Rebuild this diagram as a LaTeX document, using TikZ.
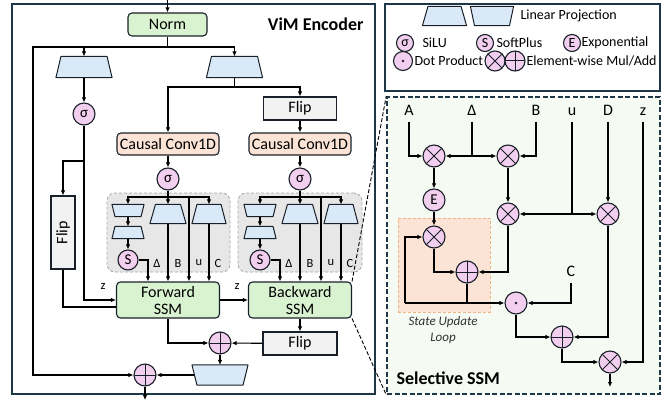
\documentclass[tikz,border=0pt]{standalone}
\usepackage{fontspec}
\setmainfont{Carlito}
\usepackage{tikz}
\usetikzlibrary{arrows.meta,positioning,calc}

\definecolor{panelc}{RGB}{31,56,72}
\definecolor{linec}{RGB}{25,32,40}
\definecolor{ssmgreen}{RGB}{217,242,208}
\definecolor{convorange}{RGB}{251,227,214}
\definecolor{flipgray}{RGB}{242,242,242}
\definecolor{projblue}{RGB}{218,233,247}
\definecolor{oppink}{RGB}{242,206,239}
\definecolor{grpgray}{RGB}{231,231,231}
\definecolor{grpline}{RGB}{166,166,166}
\definecolor{selgreen}{RGB}{245,250,243}
\definecolor{loopfill}{RGB}{251,228,213}
\definecolor{loopline}{RGB}{244,177,131}
\definecolor{looptext}{RGB}{50,50,50}

\begin{document}
\begin{tikzpicture}[
    x=1pt, y=-1pt, line width=1.1pt,
    >={Latex[length=5pt,width=4.5pt]},
    panel/.style={draw=panelc, line width=1.6pt},
    blk/.style={rectangle, draw=linec, rounded corners=4pt, align=center,
                font=\fontsize{16}{17}\selectfont, inner sep=1pt},
    ssm/.style={blk, fill=ssmgreen, minimum width=103pt, minimum height=36pt},
    conv/.style={blk, fill=convorange, minimum width=102pt, minimum height=22pt},
    flipbox/.style={blk, fill=flipgray, rounded corners=0pt,
                    minimum width=74pt, minimum height=23pt},
    projnode/.style={rectangle, inner sep=0pt, minimum width=55pt, minimum height=20pt},
    trapline/.style={draw=linec, fill=projblue, line width=1pt, line join=round},
    opc/.style={circle, draw=linec, fill=oppink, minimum size=22pt,
                inner sep=0pt, font=\fontsize{15}{15}\selectfont},
    legop/.style={opc, minimum size=17pt, font=\fontsize{14}{14}\selectfont},
    mulop/.style={path picture={\draw[linec, line width=1pt]
        (path picture bounding box.north west) -- (path picture bounding box.south east)
        (path picture bounding box.north east) -- (path picture bounding box.south west);}},
    addop/.style={path picture={\draw[linec, line width=1pt]
        (path picture bounding box.north) -- (path picture bounding box.south)
        (path picture bounding box.east) -- (path picture bounding box.west);}},
    dotop/.style={path picture={\fill[linec]
        (path picture bounding box.center) circle (1.4pt);}},
    lbl/.style={font=\fontsize{16}{16}\selectfont, inner sep=4pt,
                text height=10pt, text depth=2pt},
    smalllbl/.style={font=\fontsize{12.5}{12.5}\selectfont, inner sep=1pt},
    legtext/.style={font=\fontsize{14}{14}\selectfont, anchor=west, inner sep=0pt},
    titletext/.style={font=\fontsize{18}{18}\selectfont\bfseries, inner sep=0pt},
    grpbox/.style={draw=grpline, dash pattern=on 3pt off 2pt, fill=grpgray,
                   rounded corners=8pt, line width=0.8pt},
    zoomline/.style={dash pattern=on 4pt off 2pt, line width=0.9pt},
]
    \useasboundingbox (0,0) rectangle (668,401);

    % Panels
    \node[panel, minimum width=363pt, minimum height=390pt] (enc) at (193.5,199) {};
    \node[panel, minimum width=275pt, minimum height=87pt] (leg) at (522.5,47.5) {};
    \node[panel, dash pattern=on 5pt off 2.5pt, fill=selgreen, minimum width=273pt,
          minimum height=297pt] (sel) at (523.5,245.5) {};
    \node[titletext, anchor=east] (vimtitle) at (364,24) {ViM Encoder};
    \node[titletext, anchor=west] (seltitle) at (396,378) {Selective SSM};

    % Legend
    \node[projnode, minimum width=43pt, minimum height=18pt] (lgA) at (444.5,16) {};
    \node[projnode, minimum width=42pt, minimum height=18pt] (lgB) at (492,16) {};
    \node[legtext] (lgAtxt) at (520,16) {Linear Projection};
    \node[legop] (lgS) at (405,43) {σ};
    \node[legtext] (lgStxt) at (422,43) {SiLU};
    \node[legop] (lgP) at (485,43) {S};
    \node[legtext] (lgPtxt) at (496,43) {SoftPlus};
    \node[legop] (lgE) at (572,43) {E};
    \node[legtext] (lgEtxt) at (581,43) {Exponential};
    \node[legop, dotop, minimum size=19pt] (lgD) at (403,61) {};
    \node[legtext] (lgDtxt) at (414,61) {Dot Product};
    \node[legop, mulop, minimum size=20pt] (lgM) at (495,61) {};
    \node[legop, addop, minimum size=20pt] (lgAd) at (515,61) {};
    \node[legtext] (lgMtxt) at (526,61) {Element-wise Mul/Add};

    % Groups
    \node[grpbox, minimum width=123pt, minimum height=79pt] (grpL) at (168.5,232.5) {};
    \node[grpbox, minimum width=124pt, minimum height=79pt] (grpR) at (300,232.5) {};

    % Encoder blocks
    \coordinate (in) at (167.5,0);
    \node[blk, fill=ssmgreen, minimum width=79pt, minimum height=23pt] (norm) at (167.5,24.5) {Norm};
    \coordinate (split) at (167.5,47);
    \node[projnode] (projL) at (84,67) {};
    \node[projnode] (projR) at (234.5,67) {};
    \node[opc] (silu1) at (84,114) {σ};
    \node[flipbox, minimum width=24pt, minimum height=73pt] (flipz) at (63,232.5) {\rotatebox{90}{Flip}};
    \node[flipbox, minimum width=73pt] (flipR) at (300,108.5) {Flip};
    \node[conv] (convL) at (168,144) {Causal Conv1D};
    \node[conv] (convR) at (300,144) {Causal Conv1D};
    \node[opc] (siluL) at (168,179) {σ};
    \node[opc] (siluR) at (300,179) {σ};

    % Forward parameters
    \node[projnode, minimum width=31pt, minimum height=11pt] (dtL1) at (128,210.5) {};
    \node[projnode, minimum width=31pt, minimum height=11pt] (dtL2) at (128,232.5) {};
    \node[opc, minimum size=20pt] (softL) at (128,260) {S};
    \node[projnode, minimum width=35pt, minimum height=18pt] (bL) at (168,214) {};
    \node[projnode, minimum width=33pt, minimum height=18pt] (cL) at (209,214) {};
    \node[smalllbl] (lblDL) at (157,263) {Δ};
    \node[smalllbl] (lblBL) at (178,263) {B};
    \node[smalllbl] (lblUL) at (199,263) {u};
    \node[smalllbl] (lblCL) at (218,263) {C};

    % Backward parameters
    \node[projnode, minimum width=31pt, minimum height=11pt] (dtR1) at (260,210.5) {};
    \node[projnode, minimum width=31pt, minimum height=11pt] (dtR2) at (260,232.5) {};
    \node[opc, minimum size=20pt] (softR) at (260,260) {S};
    \node[projnode, minimum width=35pt, minimum height=18pt] (bR) at (300,214) {};
    \node[projnode, minimum width=33pt, minimum height=18pt] (cR) at (341,214) {};
    \node[smalllbl] (lblDR) at (289,263) {Δ};
    \node[smalllbl] (lblBR) at (310,263) {B};
    \node[smalllbl] (lblUR) at (331,263) {u};
    \node[smalllbl] (lblCR) at (350,263) {C};

    % SSMs and merge
    \node[ssm] (fwd) at (168,300) {Forward\\SSM};
    \node[ssm] (bwd) at (300,300) {Backward\\SSM};
    \node[smalllbl] (lblzF) at (103,287) {z};
    \node[smalllbl] (lblzB) at (237,287) {z};
    \node[flipbox] (flipB) at (300,343.5) {Flip};
    \node[opc, addop] (addM) at (220,343) {};
    \node[projnode, minimum height=19pt] (outproj) at (220,375) {};
    \node[opc, addop] (addO) at (145,375) {};
    \coordinate (resid) at (33,375);
    \coordinate (out) at (145,400);

    % Linear projections (narrow top / narrow bottom)
    \foreach \n/\c in {lgA/5.5, projL/5, projR/5, dtL2/3, dtR2/3, bL/5.5, bR/5.5, cL/5, cR/5}
        \draw[trapline] ([xshift=\c pt]\n.north west) -- ([xshift=-\c pt]\n.north east)
            -- (\n.south east) -- (\n.south west) -- cycle;
    \foreach \n/\c in {lgB/4, dtL1/3, dtR1/3, outproj/5}
        \draw[trapline] (\n.north west) -- (\n.north east)
            -- ([xshift=-\c pt]\n.south east) -- ([xshift=\c pt]\n.south west) -- cycle;

    % Encoder arrows
    \draw[->] (in) -- (norm);
    \draw (norm) -- (split);
    \draw[->] (split) -| (projL.north);
    \draw[->] (split) -| (projR.north);
    \draw[->] (split) -| (resid) -- (addO.west);
    \draw[->] (projL) -- (silu1);
    \coordinate (zsplit) at (84,161);
    \draw (silu1) -- (zsplit);
    \draw[->] (zsplit) -| (flipz.north);
    \draw[->] (zsplit) |- (fwd.west);
    \draw (flipz.south) |- ([yshift=-7pt]fwd.west);
    \coordinate (rsplit) at (234.5,87);
    \draw (projR) -- (rsplit);
    \draw[->] (rsplit) -| (convL.north);
    \draw[->] (rsplit) -| (flipR.north);
    \draw[->] (flipR) -- (convR);
    \draw[->] (convL) -- (siluL);
    \draw[->] (convR) -- (siluR);

    % Forward group arrows
    \coordinate (gL) at (168,197);
    \coordinate (uL) at (189,197);
    \draw (siluL) -- (gL);
    \draw[->] (gL) -| (dtL1.north);
    \draw[->] (gL) -- (bL.north);
    \draw[->] (gL) -| (cL.north);
    \draw[->] (dtL1) -- (dtL2);
    \draw[->] (dtL2) -- (softL);
    \draw[->] (softL.east) -| ([xshift=-20pt]fwd.north);
    \draw[->] (bL.south) -- (fwd.north);
    \draw[->] (uL) -- (uL |- fwd.north);
    \draw[->] (cL.south) -- (cL.south |- fwd.north);

    % Backward group arrows
    \coordinate (gR) at (300,197);
    \coordinate (uR) at (321,197);
    \draw (siluR) -- (gR);
    \draw[->] (gR) -| (dtR1.north);
    \draw[->] (gR) -- (bR.north);
    \draw[->] (gR) -| (cR.north);
    \draw[->] (dtR1) -- (dtR2);
    \draw[->] (dtR2) -- (softR);
    \draw[->] (softR.east) -| ([xshift=-20pt]bwd.north);
    \draw[->] (bR.south) -- (bwd.north);
    \draw[->] (uR) -- (uR |- bwd.north);
    \draw[->] (cR.south) -- (cR.south |- bwd.north);

    % Merge arrows
    \draw[->] (fwd.east) -- (bwd.west);
    \draw[->] (bwd) -- (flipB);
    \draw[->] (flipB) -- (addM);
    \draw[->] (fwd.south) |- (addM.west);
    \draw[->] (addM) -- (outproj);
    \draw[->] ([xshift=2.5pt]outproj.west) -- (addO);
    \draw[->] (addO) -- (out);

    % Selective SSM
    \node[draw=loopline, dash pattern=on 3pt off 2pt, fill=loopfill, line width=0.8pt,
          minimum width=92pt, minimum height=94pt] (loopbox) at (444,265) {};
    \node[font=\fontsize{13}{16}\selectfont\itshape, text=looptext, align=center] (looplbl) at (443,330) {State Update\\Loop};
    \node[lbl] (lA) at (409,111) {A};
    \node[lbl] (lDelta) at (472,111) {Δ};
    \node[lbl] (lB) at (536,111) {B};
    \node[lbl] (lu) at (572,111) {u};
    \node[lbl] (lD) at (608,111) {D};
    \node[lbl] (lz) at (643,111) {z};
    \node[lbl] (lC) at (571,272) {C};
    \node[opc, mulop] (mul1) at (434,156) {};
    \node[opc, mulop] (mul2) at (508,156) {};
    \node[opc] (expE) at (434,200) {E};
    \node[opc, mulop] (mul3) at (434,237) {};
    \node[opc, mulop] (mul4) at (508,214) {};
    \node[opc, mulop] (mul5) at (608,214) {};
    \node[opc, addop] (add1) at (467,272) {};
    \node[opc, dotop] (dot1) at (516,303) {};
    \node[opc, addop] (add2) at (562,337) {};
    \node[opc, mulop] (mul6) at (610,362) {};
    \coordinate (dsplit) at (472,156);
    \coordinate (usplit) at (572,214);
    \coordinate (loopc) at (405,303);
    \coordinate (selout) at (610,387);

    % Selective SSM arrows
    \draw[->] (lA.south) |- (mul1.west);
    \draw (lDelta.south) -- (dsplit);
    \draw[->] (dsplit) -- (mul1.east);
    \draw[->] (dsplit) -- (mul2.west);
    \draw[->] (lB.south) |- (mul2.east);
    \draw[->] (mul1) -- (expE);
    \draw[->] (expE) -- (mul3);
    \draw[->] (mul2) -- (mul4);
    \draw (lu.south) -- (usplit);
    \draw[->] (usplit) -- (mul4.east);
    \draw[->] (usplit) -- (mul5.west);
    \draw[->] (lD.south) -- (mul5.north);
    \draw[->] (lz.south) |- (mul6.east);
    \draw[->] (mul3.south) |- (add1.west);
    \draw[->] (mul4.south) |- (add1.east);
    \draw (add1.south) -- (add1.south |- dot1);
    \draw[->] (loopc) -- (dot1.west);
    \draw[->] (loopc) |- (mul3.west);
    \draw[->] (lC.south) |- (dot1.east);
    \draw[->] (dot1.south) |- (add2.west);
    \draw[->] (mul5.south) |- (add2.east);
    \draw[->] (add2.south) |- (mul6.west);
    \draw[->] (mul6) -- (selout);

    % Zoom lines
    \draw[zoomline] (bwd.north east) -- (sel.north west);
    \draw[zoomline] (bwd.south east) -- (sel.south west);
\end{tikzpicture}
\end{document}
